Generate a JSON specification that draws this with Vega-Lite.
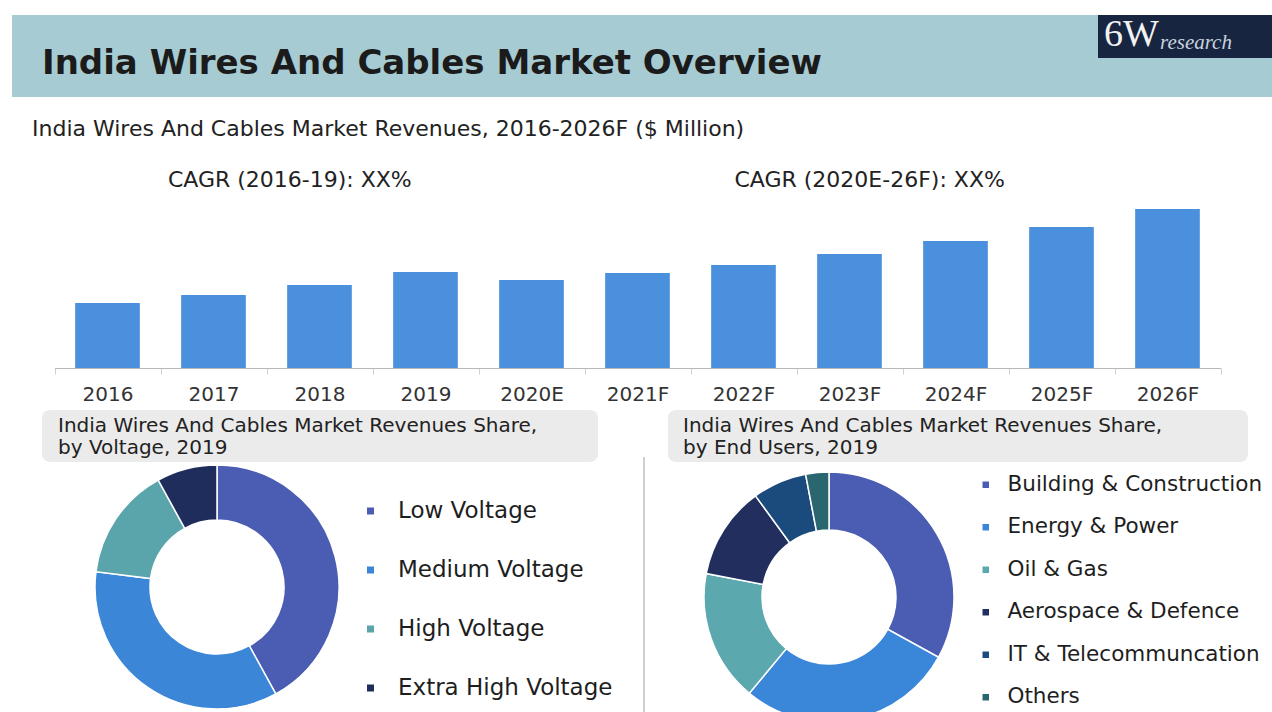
{
  "$schema": "https://vega.github.io/schema/vega-lite/v6.json",
  "padding": {"left": 12, "top": 15, "right": 0, "bottom": 0},
  "background": "#ffffff",
  "config": {"view": {"stroke": null}, "font": "DejaVu Sans"},
  "resolve": {"scale": {"color": "independent"}, "legend": {"color": "independent"}},
  "spacing": 0,
  "vconcat": [
    {
      "spacing": 0,
      "hconcat": [
        {
          "width": 1086, "height": 82,
          "view": {"fill": "#a6cbd3", "stroke": null},
          "data": {"values": []},
          "mark": {"type": "rect", "opacity": 0},
          "encoding": {},
          "title": {"text": "India Wires And Cables Market Overview", "anchor": "start", "frame": "group", "orient": "top", "offset": 0, "baseline": "alphabetic", "dx": 30, "dy": 93, "font": "DejaVu Sans", "fontSize": 34, "fontWeight": "bold", "color": "#1b1b1b"}
        },
        {
          "spacing": 0,
          "vconcat": [
            {
              "spacing": 0,
              "hconcat": [
                {
                  "width": 62, "height": 43,
                  "view": {"fill": "#172541", "stroke": null},
                  "data": {"values": []},
                  "mark": {"type": "rect", "opacity": 0},
                  "encoding": {},
                  "title": {"text": "6W", "anchor": "start", "frame": "group", "orient": "top", "offset": 0, "baseline": "alphabetic", "dx": 6, "dy": 69, "font": "Liberation Serif", "fontSize": 38, "fontWeight": "normal", "color": "#f2f2f2"}
                },
                {
                  "width": 112, "height": 43,
                  "view": {"fill": "#172541", "stroke": null},
                  "data": {"values": []},
                  "mark": {"type": "rect", "opacity": 0},
                  "encoding": {},
                  "title": {"text": "research", "anchor": "start", "frame": "group", "orient": "top", "offset": 0, "baseline": "alphabetic", "dx": 0, "dy": 55, "font": "Liberation Serif", "fontSize": 21, "fontStyle": "italic", "fontWeight": "normal", "color": "#c9d2de"}
                }
              ]
            },
            {
              "width": 174, "height": 39,
              "view": {"fill": "#a6cbd3", "stroke": null},
              "data": {"values": []},
              "mark": {"type": "rect", "opacity": 0},
              "encoding": {}
            }
          ]
        }
      ]
    },
    {
      "width": 1260, "height": 271,
      "title": {"text": "India Wires And Cables Market Revenues, 2016-2026F ($ Million)", "anchor": "start", "frame": "group", "orient": "top", "offset": 0, "baseline": "alphabetic", "dx": 20, "dy": 61, "font": "DejaVu Sans", "fontSize": 22, "fontWeight": "normal", "color": "#222222"},
      "layer": [
        {
          "data": {"values": [
            {"year": "2016", "revenue": 65},
            {"year": "2017", "revenue": 73},
            {"year": "2018", "revenue": 83},
            {"year": "2019", "revenue": 96},
            {"year": "2020E", "revenue": 88},
            {"year": "2021F", "revenue": 95},
            {"year": "2022F", "revenue": 103},
            {"year": "2023F", "revenue": 114},
            {"year": "2024F", "revenue": 127},
            {"year": "2025F", "revenue": 141},
            {"year": "2026F", "revenue": 159}
          ]},
          "mark": {"type": "bar", "color": "#4a90dc", "width": {"band": 0.61}},
          "encoding": {
            "x": {"field": "year", "type": "nominal", "sort": null,
                  "scale": {"type": "band", "range": [42.5, 1208.5], "paddingInner": 0, "paddingOuter": 0},
                  "axis": {"title": null, "labelAngle": 0, "labelFont": "DejaVu Sans", "labelFontSize": 20, "labelColor": "#333333", "domainColor": "#b8b8b8", "tickColor": "#d0d0d0", "tickSize": 6, "tickBand": "extent", "labelPadding": 10}},
            "y": {"field": "revenue", "type": "quantitative", "scale": {"domain": [0, 271], "nice": false}, "axis": null}
          }
        },
        {
          "data": {"values": [{"label": "CAGR (2016-19): XX%"}]},
          "mark": {"type": "text", "font": "DejaVu Sans", "fontSize": 22, "color": "#222222", "baseline": "middle", "align": "center"},
          "encoding": {
            "x": {"datum": "2018", "type": "nominal", "bandPosition": 0.22},
            "y": {"datum": 188, "type": "quantitative"},
            "text": {"field": "label"}
          }
        },
        {
          "data": {"values": [{"label": "CAGR (2020E-26F): XX%"}]},
          "mark": {"type": "text", "font": "DejaVu Sans", "fontSize": 22, "color": "#222222", "baseline": "middle", "align": "center"},
          "encoding": {
            "x": {"datum": "2023F", "type": "nominal", "bandPosition": 0.69},
            "y": {"datum": 188, "type": "quantitative"},
            "text": {"field": "label"}
          }
        }
      ]
    },
    {
      "spacing": 0,
      "resolve": {"scale": {"color": "independent"}, "legend": {"color": "independent"}},
      "hconcat": [
        {
          "spacing": 0,
          "vconcat": [
            {"width": 631, "height": 6, "data": {"values": []}, "mark": {"type": "rect", "opacity": 0}, "encoding": {}},
            {
              "spacing": 0,
              "hconcat": [
                {"width": 30, "height": 52, "data": {"values": []}, "mark": {"type": "rect", "opacity": 0}, "encoding": {}},
                {
                  "width": 556, "height": 52,
                  "view": {"fill": "#ebebeb", "stroke": null, "cornerRadius": 8},
                  "data": {"values": []},
                  "mark": {"type": "rect", "opacity": 0},
                  "encoding": {},
                  "title": {"text": ["India Wires And Cables Market Revenues Share,", "by Voltage, 2019"], "anchor": "start", "frame": "group", "orient": "top", "offset": 0, "baseline": "alphabetic", "dx": 16, "dy": 64, "lineHeight": 22.5, "font": "DejaVu Sans", "fontSize": 20, "fontWeight": "normal", "color": "#222222"}
                }
              ]
            },
            {
              "spacing": 0,
              "hconcat": [
                {"width": 80, "height": 246, "data": {"values": []}, "mark": {"type": "rect", "opacity": 0}, "encoding": {}},
                {
                  "width": 250, "height": 246,
                  "data": {"values": [
                    {"voltage": "Low Voltage", "share": 42},
                    {"voltage": "Medium Voltage", "share": 35},
                    {"voltage": "High Voltage", "share": 15},
                    {"voltage": "Extra High Voltage", "share": 8}
                  ]},
                  "mark": {"type": "arc", "outerRadius": 122, "innerRadius": 67, "stroke": "#ffffff", "strokeWidth": 1.5},
                  "encoding": {
                    "theta": {"field": "share", "type": "quantitative"},
                    "order": {"field": "share", "sort": "descending"},
                    "color": {"field": "voltage", "type": "nominal",
                      "sort": ["Low Voltage", "Medium Voltage", "High Voltage", "Extra High Voltage"],
                      "scale": {"domain": ["Low Voltage", "Medium Voltage", "High Voltage", "Extra High Voltage"], "range": ["#4a5db3", "#3b86d6", "#5aa5ab", "#1f2d5c"]},
                      "legend": {"title": null, "orient": "none", "legendX": 347, "legendY": 95.5, "padding": 0, "symbolType": "square", "symbolSize": 49, "symbolStrokeWidth": 0, "labelOffset": 16, "labelFont": "DejaVu Sans", "labelFontSize": 23, "labelColor": "#1e1e1e", "rowPadding": 35, "labelLimit": 400}}
                  }
                }
              ]
            }
          ]
        },
        {
          "spacing": 0,
          "vconcat": [
            {"width": 2, "height": 53, "data": {"values": []}, "mark": {"type": "rect", "opacity": 0}, "encoding": {}},
            {"width": 2, "height": 270, "view": {"fill": "#cfcfcf", "stroke": null}, "data": {"values": []}, "mark": {"type": "rect", "opacity": 0}, "encoding": {}}
          ]
        },
        {
          "spacing": 0,
          "vconcat": [
            {"width": 627, "height": 6, "data": {"values": []}, "mark": {"type": "rect", "opacity": 0}, "encoding": {}},
            {
              "spacing": 0,
              "hconcat": [
                {"width": 23, "height": 52, "data": {"values": []}, "mark": {"type": "rect", "opacity": 0}, "encoding": {}},
                {
                  "width": 580, "height": 52,
                  "view": {"fill": "#ebebeb", "stroke": null, "cornerRadius": 8},
                  "data": {"values": []},
                  "mark": {"type": "rect", "opacity": 0},
                  "encoding": {},
                  "title": {"text": ["India Wires And Cables Market Revenues Share,", "by End Users, 2019"], "anchor": "start", "frame": "group", "orient": "top", "offset": 0, "baseline": "alphabetic", "dx": 15, "dy": 64, "lineHeight": 22.5, "font": "DejaVu Sans", "fontSize": 20, "fontWeight": "normal", "color": "#222222"}
                }
              ]
            },
            {
              "spacing": 0,
              "hconcat": [
                {"width": 56, "height": 270, "data": {"values": []}, "mark": {"type": "rect", "opacity": 0}, "encoding": {}},
                {
                  "width": 250, "height": 270,
                  "data": {"values": [
                    {"enduser": "Building & Construction", "share": 33},
                    {"enduser": "Energy & Power", "share": 28},
                    {"enduser": "Oil & Gas", "share": 17},
                    {"enduser": "Aerospace & Defence", "share": 12},
                    {"enduser": "IT & Telecommuncation", "share": 7},
                    {"enduser": "Others", "share": 3}
                  ]},
                  "mark": {"type": "arc", "outerRadius": 125, "innerRadius": 67, "stroke": "#ffffff", "strokeWidth": 1.5},
                  "encoding": {
                    "theta": {"field": "share", "type": "quantitative"},
                    "order": {"field": "share", "sort": "descending"},
                    "color": {"field": "enduser", "type": "nominal",
                      "sort": ["Building & Construction", "Energy & Power", "Oil & Gas", "Aerospace & Defence", "IT & Telecommuncation", "Others"],
                      "scale": {"domain": ["Building & Construction", "Energy & Power", "Oil & Gas", "Aerospace & Defence", "IT & Telecommuncation", "Others"], "range": ["#4a5db3", "#3a86d8", "#5ba8ae", "#222f5e", "#1b4a7c", "#2a6670"]},
                      "legend": {"title": null, "orient": "none", "legendX": 330, "legendY": 70, "padding": 0, "symbolType": "square", "symbolSize": 42, "symbolStrokeWidth": 0, "labelOffset": 11, "labelFont": "DejaVu Sans", "labelFontSize": 21.5, "labelColor": "#1e1e1e", "rowPadding": 19.5, "labelLimit": 400}}
                  }
                }
              ]
            }
          ]
        }
      ]
    }
  ]
}
